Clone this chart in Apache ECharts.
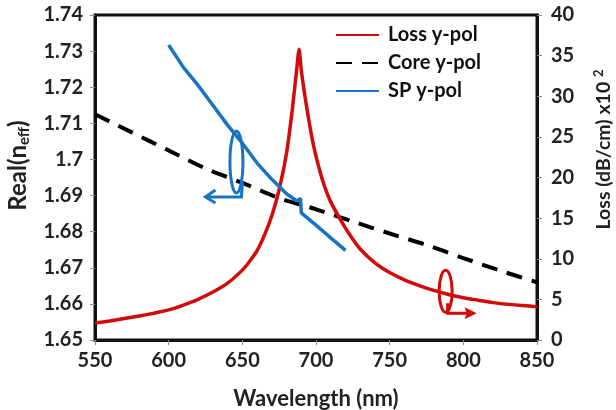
<!DOCTYPE html>
<html>
<head>
<meta charset="utf-8">
<script src="https://cdn.jsdelivr.net/npm/echarts@6/dist/echarts.min.js"></script>
<style>
  html, body { margin: 0; padding: 0; background: #fff; }
  #chart { width: 616px; height: 410px; }
</style>
</head>
<body>
<div id="chart"></div>
<script>
var chartDom = document.getElementById('chart');
var myChart = echarts.init(chartDom);
var option;

// Loss y-pol (right axis, dB/cm x10^2)
var lossWl  = [550, 560, 570, 580, 590, 600, 610, 620, 630, 640, 650, 655, 660, 665, 670, 675, 680, 684, 687, 688.5,
               690, 692.5, 695, 698, 702, 706, 710, 716, 722, 730, 740, 750, 760, 770, 780, 790, 800, 810, 820, 830, 840, 850];
var lossVal = [2.1, 2.35, 2.65, 2.95, 3.3, 3.7, 4.3, 5.0, 5.9, 7.0, 8.6, 9.7, 11.0, 12.9, 15.3, 18.5, 23.0, 28.5, 33.5, 35.8,
               33.2, 30.0, 27.2, 24.2, 21.2, 18.8, 17.0, 15.0, 13.2, 11.2, 9.5, 8.3, 7.4, 6.7, 6.1, 5.6, 5.2, 4.9, 4.6, 4.4, 4.25, 4.1];

// Core y-pol (left axis, Real(neff))
var coreWl  = [550, 575, 600, 625, 650, 675, 700, 725, 750, 775, 800, 825, 850];
var coreVal = [1.7125, 1.7075, 1.7025, 1.6975, 1.6935, 1.6893, 1.6862, 1.6828, 1.6795, 1.6763, 1.6727, 1.6692, 1.6660];

// SP y-pol (left axis)
var spWl    = [600, 610, 620, 630, 640, 650, 660, 670, 680, 687, 689.5, 690, 700, 710, 720];
var spVal   = [1.7317, 1.7255, 1.7205, 1.7150, 1.7095, 1.7045, 1.6990, 1.6945, 1.6905, 1.6885, 1.6892, 1.6852, 1.6818, 1.6783, 1.6748];

function pairs(xs, ys) {
  var out = [];
  for (var i = 0; i < xs.length; i++) out.push([xs[i], ys[i]]);
  return out;
}

var FONT = 'Lato';
var labelStyle = { fontFamily: FONT, fontWeight: 'bold', fontSize: 20, color: '#222' };

option = {
  animation: false,
  grid: {
    left: 95, right: 79, top: 15, bottom: 70,
    outerBoundsMode: 'none',
    show: true, borderColor: '#111', borderWidth: 3
  },
  legend: {
    orient: 'vertical',
    left: 335, top: 25, padding: 0,
    itemWidth: 43, itemHeight: 14, itemGap: 8,
    itemStyle: { opacity: 0 },
    textStyle: { fontFamily: FONT, fontWeight: 'bold', fontSize: 20, color: '#111', padding: [0, 0, 0, 4] },
    data: ['Loss y-pol', 'Core y-pol', 'SP y-pol']
  },
  xAxis: {
    type: 'value', min: 550, max: 850, interval: 50,
    name: 'Wavelength (nm)', nameLocation: 'middle', nameGap: 48,
    nameTextStyle: { fontFamily: FONT, fontWeight: 'bold', fontSize: 22, color: '#222' },
    axisLine: { lineStyle: { color: '#111', width: 3 } },
    axisTick: { show: true, length: 5, lineStyle: { color: '#888' } },
    axisLabel: Object.assign({ margin: 11 }, labelStyle),
    splitLine: { show: false }
  },
  yAxis: [
    {
      type: 'value', min: 1.65, max: 1.74, interval: 0.01,
      name: 'Real(n{sub|eff})', nameLocation: 'middle', nameGap: 63,
      nameTextStyle: {
        fontFamily: FONT, fontWeight: 'bold', fontSize: 24, color: '#222',
        padding: [0, 0, 0, 24],
        rich: { sub: { fontFamily: FONT, fontWeight: 'bold', fontSize: 15, color: '#222', padding: [12, 0, 0, 0] } }
      },
      axisLine: { show: true, lineStyle: { color: '#111', width: 3 } },
      axisTick: { show: true, length: 5, lineStyle: { color: '#888' } },
      axisLabel: Object.assign({ margin: 12 }, labelStyle),
      splitLine: { show: false }
    },
    {
      type: 'value', min: 0, max: 40, interval: 5, position: 'right',
      name: 'Loss (dB/cm) x10 {sup|2}', nameLocation: 'middle', nameGap: 55,
      nameTextStyle: {
        fontFamily: FONT, fontWeight: 'bold', fontSize: 19.5, color: '#222',
        padding: [0, 0, 0, 56],
        rich: { sup: { fontFamily: FONT, fontWeight: 'bold', fontSize: 13, color: '#222', padding: [0, 0, 11, 0] } }
      },
      axisLine: { show: true, lineStyle: { color: '#111', width: 3 } },
      axisTick: { show: true, length: 5, lineStyle: { color: '#888' } },
      axisLabel: Object.assign({ margin: 14 }, labelStyle),
      splitLine: { show: false }
    }
  ],
  series: [
    {
      name: 'Loss y-pol', type: 'line', yAxisIndex: 1,
      data: pairs(lossWl, lossVal),
      symbol: 'none', smooth: 0.2,
      lineStyle: { color: '#d10a0a', width: 3.5 },
      itemStyle: { color: '#d10a0a' }, z: 3
    },
    {
      name: 'Core y-pol', type: 'line', yAxisIndex: 0,
      data: pairs(coreWl, coreVal),
      symbol: 'none', smooth: 0.3,
      lineStyle: { color: '#000', width: 4, type: [16, 10] },
      itemStyle: { color: '#000' }, z: 2
    },
    {
      name: 'SP y-pol', type: 'line', yAxisIndex: 0,
      data: pairs(spWl, spVal),
      symbol: 'none',
      lineStyle: { color: '#1a72c4', width: 3.5 },
      itemStyle: { color: '#1a72c4' }, z: 4
    }
  ]
};

option && myChart.setOption(option);

// circled-axis annotations, positioned from data coordinates
var b = myChart.convertToPixel({ xAxisIndex: 0, yAxisIndex: 0 }, [646, 1.6993]);
var r = myChart.convertToPixel({ xAxisIndex: 0, yAxisIndex: 1 }, [788, 6.0]);
var blue = '#1a72c4', red = '#d10a0a';

myChart.setOption({
  graphic: [
    { type: 'ellipse', shape: { cx: b[0], cy: b[1], rx: 6.5, ry: 31 }, style: { fill: null, stroke: blue, lineWidth: 3 }, z: 10 },
    { type: 'polyline', shape: { points: [[b[0] + 6, b[1] + 20], [b[0] + 5, b[1] + 35], [b[0] - 31, b[1] + 35]] }, style: { fill: null, stroke: blue, lineWidth: 3 }, z: 10 },
    { type: 'polyline', shape: { points: [[b[0] - 21, b[1] + 28], [b[0] - 31, b[1] + 35], [b[0] - 21, b[1] + 41]] }, style: { fill: null, stroke: blue, lineWidth: 3 }, z: 10 },
    { type: 'ellipse', shape: { cx: r[0], cy: r[1], rx: 6.5, ry: 21 }, style: { fill: null, stroke: red, lineWidth: 3 }, z: 10 },
    { type: 'polyline', shape: { points: [[r[0] + 2, r[1] + 12], [r[0] + 2, r[1] + 22], [r[0] + 22, r[1] + 22]] }, style: { fill: null, stroke: red, lineWidth: 3 }, z: 10 },
    { type: 'polygon', shape: { points: [[r[0] + 31, r[1] + 22], [r[0] + 19, r[1] + 16], [r[0] + 21, r[1] + 22], [r[0] + 19, r[1] + 28]] }, style: { fill: red }, z: 10 }
  ]
});
</script>
</body>
</html>
